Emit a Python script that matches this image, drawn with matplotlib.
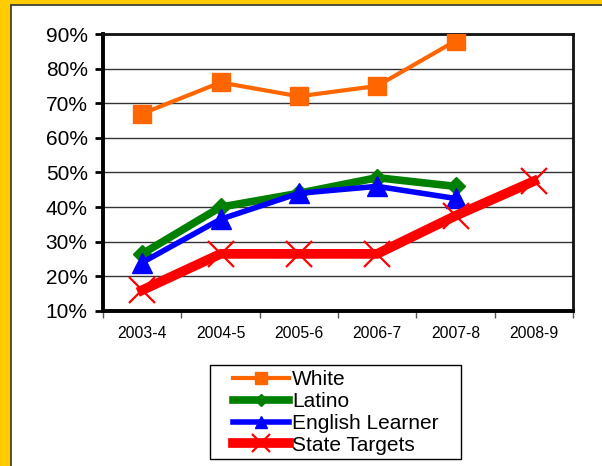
import matplotlib
matplotlib.use("Agg")
import matplotlib.pyplot as plt
from matplotlib.patches import Rectangle
from matplotlib.ticker import FixedLocator, PercentFormatter

years = ["2003-4", "2004-5", "2005-6", "2006-7", "2007-8", "2008-9"]
white = [67, 76, 72, 75, 88]
latino = [26.5, 40, 44, 48.5, 46]
english_learner = [24, 36.5, 44, 46, 42.5]
state_targets = [16, 26.5, 26.5, 26.5, 37.5, 47.5]

plt.rcParams['font.family'] = ['Liberation Sans', 'DejaVu Sans']

W, H = 602, 466
fig = plt.figure(figsize=(W / 100, H / 100), dpi=100)
fig.patch.set_facecolor('#FFCC00')
# white panel inside the yellow frame
panel = Rectangle((11 / W, -0.01), 1.0, 1 - 5 / H + 0.01,
                  transform=fig.transFigure, facecolor='white',
                  edgecolor='#333333', linewidth=1.2, zorder=-5)
fig.patches.append(panel)
# legend box
legbox = Rectangle((210 / W, 1 - 459 / H), 251 / W, 94 / H,
                   transform=fig.transFigure, facecolor='white',
                   edgecolor='black', linewidth=1, zorder=-4)
fig.patches.append(legbox)

ax = fig.add_axes([103 / W, 1 - 311 / H, 470 / W, 277 / H])
ax.set_facecolor('white')

x = list(range(len(years)))

ax.plot(x[:len(white)], white, color='#FF6600', lw=3, marker='s', ms=13.5,
        mec='#FF6600', label='White', zorder=3)
ax.plot(x[:len(latino)], latino, color='#008000', lw=5.5, marker='D', ms=9,
        mec='#008000', label='Latino', zorder=3)
ax.plot(x[:len(english_learner)], english_learner, color='#0000FF', lw=4,
        marker='^', ms=14, mec='#0000FF', label='English Learner', zorder=4)
ax.plot(x, state_targets, color='#FF0000', lw=7, marker='x', ms=19, mew=1.6,
        mec='#FF0000', label='State Targets', zorder=5)

ax.set_xlim(-0.5, 5.5)
ax.set_ylim(10, 90)
ax.set_yticks(range(10, 91, 10))
ax.yaxis.set_major_formatter(PercentFormatter(decimals=0))
ax.grid(axis='y', color='#333333', lw=1)
ax.set_axisbelow(True)

ax.xaxis.set_major_locator(FixedLocator([i - 0.5 for i in range(7)]))
ax.xaxis.set_minor_locator(FixedLocator(x))
ax.set_xticklabels([], minor=False)
ax.set_xticklabels(years, minor=True, fontsize=11.3)
ax.tick_params(axis='x', which='major', length=5, width=1, color='#555555')
ax.tick_params(axis='x', which='minor', length=0, pad=11)
ax.tick_params(axis='y', length=6, width=2, labelsize=15, pad=5)

for side in ['left', 'bottom']:
    ax.spines[side].set_linewidth(2.8)
for side in ['top', 'right']:
    ax.spines[side].set_linewidth(2)
    ax.spines[side].set_color('#111111')

leg = fig.legend(loc='upper left', bbox_to_anchor=(233 / W, 1 - 370 / H),
                 fontsize=15, frameon=False, markerscale=0.65,
                 handlelength=2.7, handletextpad=0.15, labelspacing=0.14,
                 borderpad=0.0, borderaxespad=0)

fig.savefig('out.png', dpi=100, facecolor=fig.get_facecolor())
